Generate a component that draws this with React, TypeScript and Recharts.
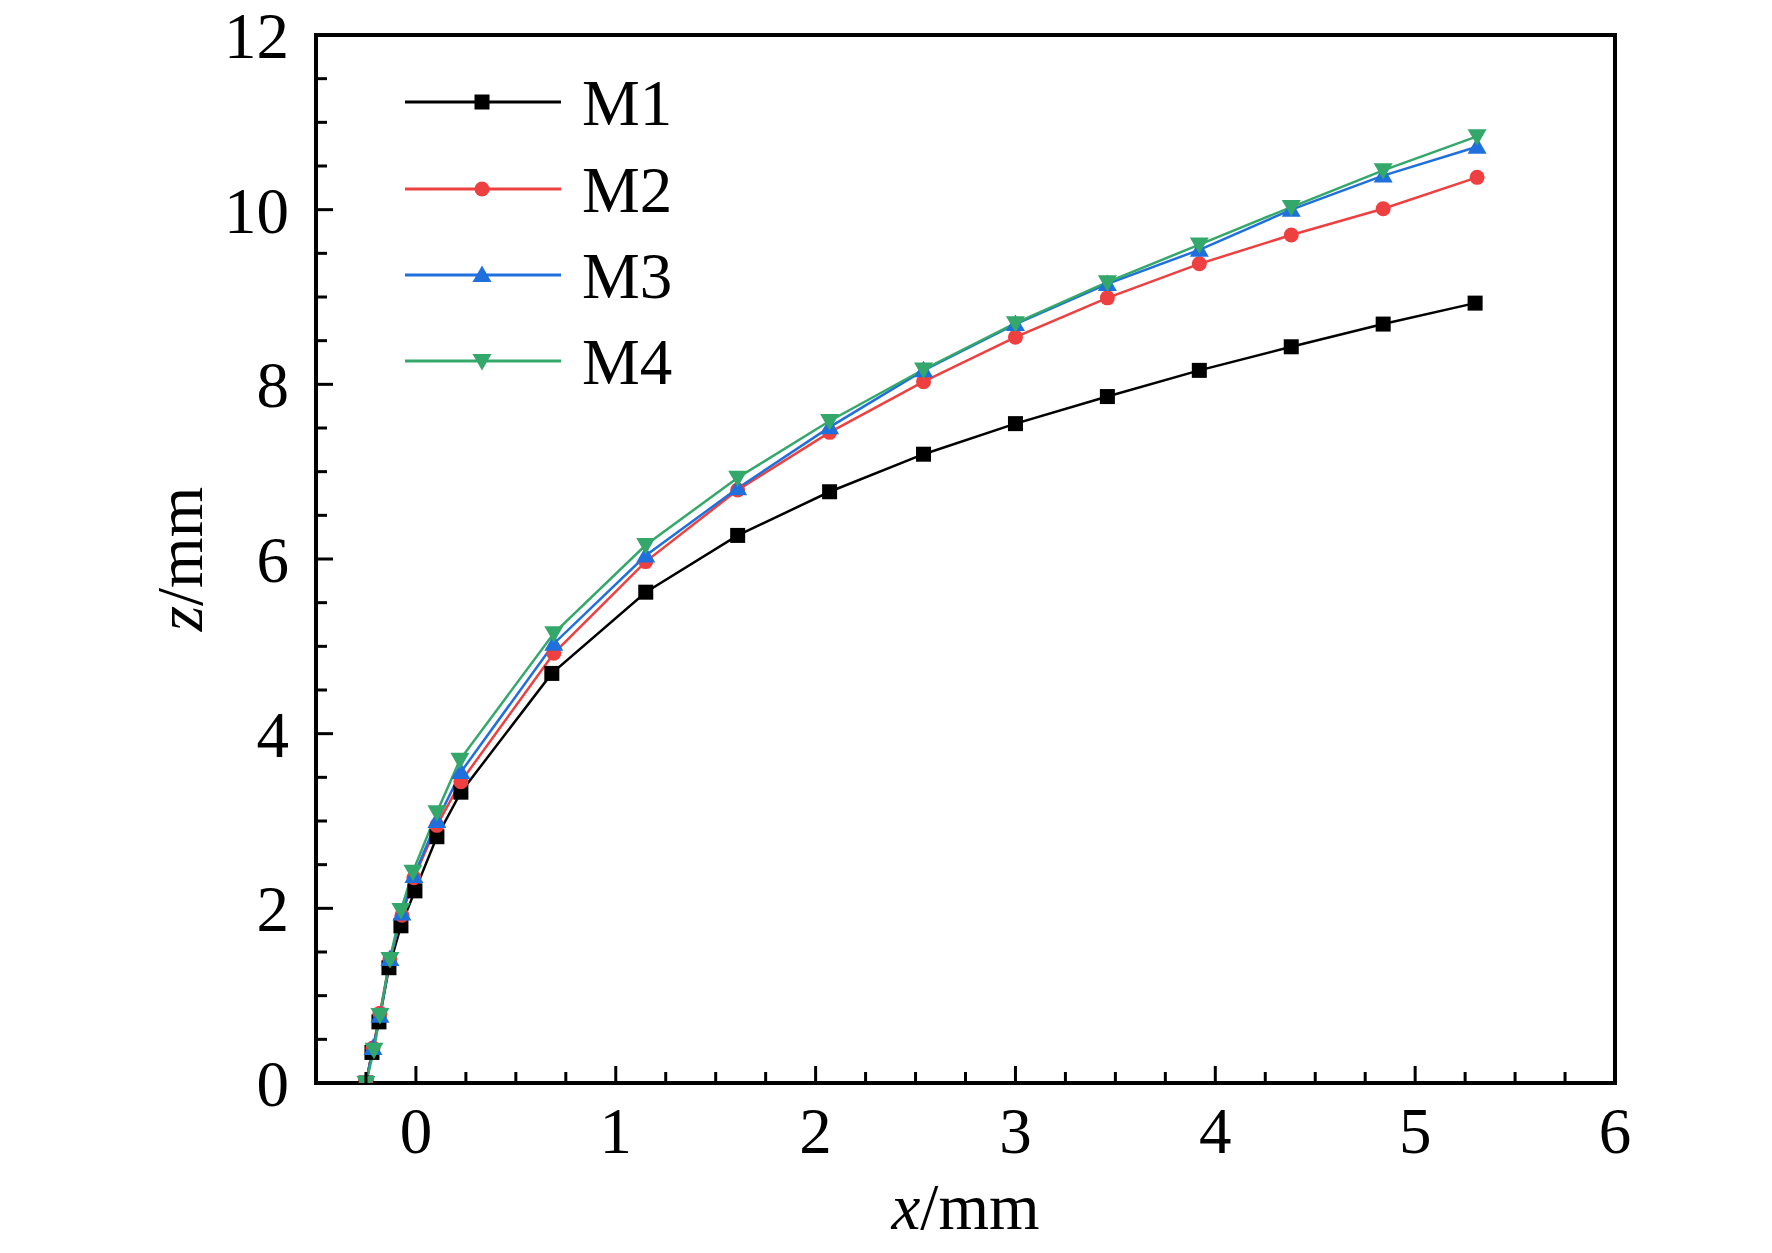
import React from "react";
import { LineChart, Line, XAxis, YAxis, ReferenceArea, Legend, Label } from "recharts";

const seriesNames = ["M1", "M2", "M3", "M4"];
const seriesColors = ["#000000", "#ee4040", "#1f6fdc", "#33a86a"];

const xM1 = [-0.25, -0.22, -0.185, -0.135, -0.075, -0.005, 0.105, 0.225, 0.68, 1.15, 1.61, 2.07, 2.54, 3.0, 3.46, 3.92, 4.38, 4.84, 5.3];
const zM1 = [0, 0.35, 0.7, 1.32, 1.8, 2.2, 2.82, 3.33, 4.69, 5.62, 6.27, 6.77, 7.2, 7.55, 7.86, 8.16, 8.43, 8.69, 8.93];

const xM2 = [-0.25, -0.215, -0.18, -0.13, -0.07, -0.01, 0.105, 0.225, 0.69, 1.15, 1.61, 2.07, 2.54, 3.0, 3.46, 3.92, 4.38, 4.84, 5.31];
const zM2 = [0, 0.4, 0.8, 1.42, 1.92, 2.35, 2.95, 3.45, 4.92, 5.97, 6.79, 7.45, 8.03, 8.54, 8.99, 9.38, 9.71, 10.01, 10.37];

const xM3 = [-0.25, -0.215, -0.18, -0.13, -0.07, -0.01, 0.105, 0.225, 0.69, 1.15, 1.61, 2.07, 2.54, 3.0, 3.46, 3.92, 4.38, 4.84, 5.31];
const zM3 = [0, 0.4, 0.77, 1.42, 1.94, 2.37, 3.0, 3.56, 5.03, 6.04, 6.81, 7.51, 8.16, 8.69, 9.15, 9.54, 10.0, 10.39, 10.72];

const xM4 = [-0.25, -0.21, -0.18, -0.13, -0.075, -0.015, 0.105, 0.22, 0.69, 1.15, 1.61, 2.07, 2.54, 3.0, 3.46, 3.92, 4.38, 4.84, 5.31];
const zM4 = [0, 0.38, 0.78, 1.42, 1.98, 2.42, 3.1, 3.7, 5.15, 6.16, 6.93, 7.58, 8.17, 8.7, 9.17, 9.6, 10.03, 10.45, 10.84];

const xTicks = [-0.5, -0.25, 0, 0.25, 0.5, 0.75, 1, 1.25, 1.5, 1.75, 2, 2.25, 2.5, 2.75, 3, 3.25, 3.5, 3.75, 4, 4.25, 4.5, 4.75, 5, 5.25, 5.5, 5.75, 6];
const xMajor = [0, 1, 2, 3, 4, 5, 6];
const yTicks = [0, 0.5, 1, 1.5, 2, 2.5, 3, 3.5, 4, 4.5, 5, 5.5, 6, 6.5, 7, 7.5, 8, 8.5, 9, 9.5, 10, 10.5, 11, 11.5, 12];
const yMajor = [0, 2, 4, 6, 8, 10, 12];

const FS = 65;
const txt: React.CSSProperties = { fontFamily: "'Liberation Serif', 'Times New Roman', Times, serif", fontSize: FS };

const toRows = (xs: number[], zs: number[]) => xs.map((x, i) => ({ x, z: zs[i] }));
const seriesData = [toRows(xM1, zM1), toRows(xM2, zM2), toRows(xM3, zM3), toRows(xM4, zM4)];

function Marker({ kind, cx, cy, color }: { kind: number; cx: number; cy: number; color: string }) {
  if (kind === 0) return <rect x={cx - 7.5} y={cy - 7.5} width={15} height={15} fill={color} />;
  if (kind === 1) return <circle cx={cx} cy={cy} r={7.5} fill={color} />;
  if (kind === 2)
    return <polygon points={`${cx},${cy - 9.5} ${cx + 9.5},${cy + 7} ${cx - 9.5},${cy + 7}`} fill={color} />;
  return <polygon points={`${cx},${cy + 9.5} ${cx + 9.5},${cy - 7} ${cx - 9.5},${cy - 7}`} fill={color} />;
}

const makeDot = (kind: number, color: string) => (props: any) => {
  const { cx, cy, index } = props;
  if (cx == null || cy == null) return <g key={`d${kind}-${index}`} />;
  return (
    <g key={`d${kind}-${index}`}>
      <Marker kind={kind} cx={cx} cy={cy} color={color} />
    </g>
  );
};

const XTick = (props: any) => {
  const { x, y, payload } = props;
  const v = payload.value;
  const major = xMajor.includes(v);
  return (
    <g>
      <line x1={x} y1={y} x2={x} y2={y - (major ? 17 : 11)} stroke="#000" strokeWidth={3} />
      {major && (
        <text x={x} y={y + 70} textAnchor="middle" style={txt} fill="#000">
          {v}
        </text>
      )}
    </g>
  );
};

const YTick = (props: any) => {
  const { x, y, payload } = props;
  const v = payload.value;
  const major = yMajor.includes(v);
  return (
    <g>
      <line x1={x} y1={y} x2={x + (major ? 17 : 11)} y2={y} stroke="#000" strokeWidth={3} />
      {major && (
        <text x={x - 27} y={y + 23} textAnchor="end" style={txt} fill="#000">
          {v}
        </text>
      )}
    </g>
  );
};

const XLabel = (props: any) => {
  const vb = props.viewBox;
  const cx = vb.x + vb.width / 2;
  return (
    <text x={cx} y={vb.y + 146} textAnchor="middle" style={txt} fill="#000">
      <tspan style={{ fontStyle: "italic" }}>x</tspan>
      <tspan>/mm</tspan>
    </text>
  );
};

const YLabel = (props: any) => {
  const vb = props.viewBox;
  const cy = vb.y + vb.height / 2;
  const bx = 202;
  return (
    <text x={bx} y={cy} textAnchor="middle" style={txt} fill="#000" transform={`rotate(-90, ${bx}, ${cy})`}>
      <tspan style={{ fontStyle: "italic" }}>z</tspan>
      <tspan>/mm</tspan>
    </text>
  );
};

// legend box placed inside the plot area
const LEG_X = 388;
const LEG_Y = 58;
const LegendBox = () => {
  const rows = [102, 189, 275, 361].map((r) => r - LEG_Y);
  return (
    <svg width={320} height={350} style={{ display: "block", overflow: "visible" }}>
      {seriesNames.map((n, i) => (
        <g key={n}>
          <line x1={405 - LEG_X} y1={rows[i]} x2={561 - LEG_X} y2={rows[i]} stroke={seriesColors[i]} strokeWidth={3} />
          <Marker kind={i} cx={482 - LEG_X} cy={rows[i]} color={seriesColors[i]} />
          <text x={582 - LEG_X} y={rows[i] + 23} style={txt} fill="#000">
            {n}
          </text>
        </g>
      ))}
    </svg>
  );
};

export default function App() {
  return (
    <div style={{ width: 1772, height: 1253, position: "absolute", left: 0, top: 0, background: "#fff" }}>
      <LineChart width={1772} height={1253} margin={{ top: 35, right: 157, bottom: 70, left: 216 }}>
        <XAxis
          type="number"
          dataKey="x"
          domain={[-0.5, 6]}
          ticks={xTicks}
          interval={0}
          allowDataOverflow
          tickSize={0}
          tickMargin={0}
          tickLine={false}
          axisLine={false}
          tick={<XTick />}
          height={100}
        >
          <Label content={<XLabel />} />
        </XAxis>
        <YAxis
          type="number"
          dataKey="z"
          domain={[0, 12]}
          ticks={yTicks}
          interval={0}
          allowDataOverflow
          tickSize={0}
          tickMargin={0}
          tickLine={false}
          axisLine={false}
          tick={<YTick />}
          width={100}
        >
          <Label content={<YLabel />} />
        </YAxis>
        <ReferenceArea
          x1={-0.5}
          x2={6}
          y1={0}
          y2={12}
          fill="none"
          stroke="#000"
          strokeWidth={4}
          ifOverflow="visible"
        />
        {seriesNames.map((n, i) => (
          <Line
            key={n}
            data={seriesData[i]}
            dataKey="z"
            name={n}
            type="linear"
            stroke={seriesColors[i]}
            strokeWidth={2.5}
            dot={makeDot(i, seriesColors[i])}
            activeDot={false}
            isAnimationActive={false}
          />
        ))}
        <Legend
          layout="horizontal"
          verticalAlign="middle"
          align="center"
          wrapperStyle={{ position: "absolute", left: LEG_X, top: LEG_Y, width: 320, height: 350 }}
          content={<LegendBox />}
        />
      </LineChart>
    </div>
  );
}
